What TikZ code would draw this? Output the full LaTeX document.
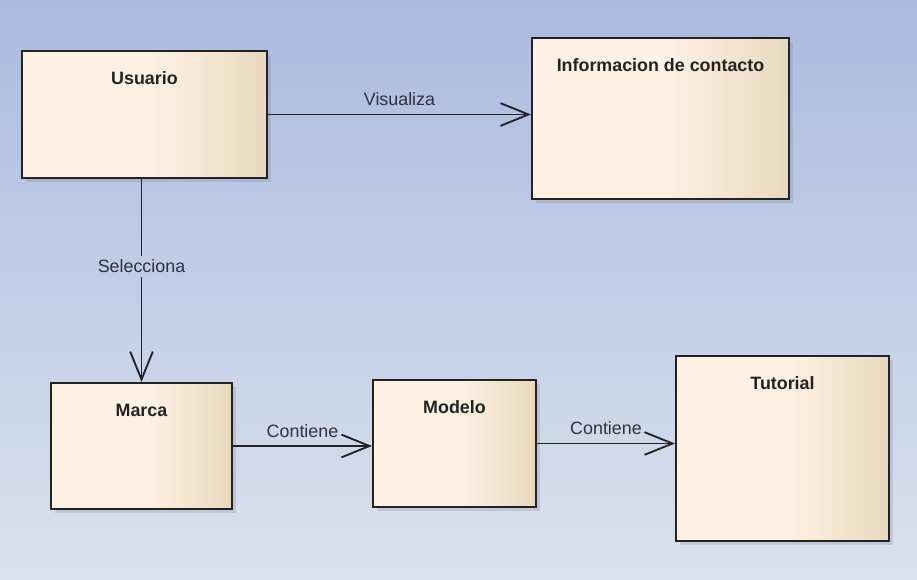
\documentclass[tikz,border=0pt]{standalone}
\usepackage{fontspec}
\setmainfont{Liberation Sans}
\usetikzlibrary{arrows.meta,shadows}

\definecolor{bgtop}{RGB}{169,187,223}
\definecolor{bgbot}{RGB}{219,226,240}
\definecolor{creamA}{RGB}{252,241,226}
\definecolor{creamB}{RGB}{233,216,189}
\definecolor{ink}{RGB}{35,35,35}
\definecolor{lblink}{RGB}{48,48,62}
\pgfdeclarehorizontalshading{cream}{100bp}{color(0bp)=(creamA); color(25bp)=(creamA); color(52bp)=(creamA); color(75bp)=(creamB); color(100bp)=(creamB)}

\begin{document}
\begin{tikzpicture}[x=0.75pt, y=-0.75pt,
	main/.style = {draw=ink, line width=1.5pt, shading=cream, drop shadow={shadow xshift=3pt, shadow yshift=-3pt, opacity=.25}},
	ttl/.style = {font=\bfseries\fontsize{13.4}{16}\selectfont, text=ink, anchor=center, yshift=-21pt},
	lbl/.style = {font=\fontsize{13.4}{16}\selectfont, text=lblink, inner sep=0pt, above=5.6pt},
	arr/.style = {-{Straight Barb[length=21pt,width=17pt]}, line width=1.4pt, draw=ink}]
		\fill[top color=bgtop, bottom color=bgbot] (0,0) rectangle (917,580);

		\node[main, minimum width=183.75pt, minimum height=95.25pt, label={[ttl]north:Usuario}] (1) at (144.5,114.5) {};
		\node[main, minimum width=192.75pt, minimum height=120.75pt, label={[ttl]north:Informacion de contacto}] (2) at (660.5,118.5) {};
		\node[main, minimum width=135.75pt, minimum height=94.5pt, label={[ttl]north:Marca}] (3) at (141.5,446) {};
		\node[main, minimum width=122.25pt, minimum height=95.25pt, label={[ttl]north:Modelo}] (4) at (454.5,443.5) {};
		\node[main, minimum width=159.75pt, minimum height=138.75pt, label={[ttl]north:Tutorial}] (5) at (782.5,448.5) {};

		\draw[arr] (1.east) -- node[lbl] {Visualiza} (1.east -| 2.west);
		\draw[arr] (3.north |- 1.south) -- node[pos=.43, fill=bgbot!46!bgtop, inner sep=3pt, font=\fontsize{13.4}{16}\selectfont, text=lblink] {Selecciona} (3.north);
		\draw[arr] (3.east) -- node[lbl] {Contiene} (3.east -| 4.west);
		\draw[arr] (4.east) -- node[lbl] {Contiene} (4.east -| 5.west);
\end{tikzpicture}
\end{document}
